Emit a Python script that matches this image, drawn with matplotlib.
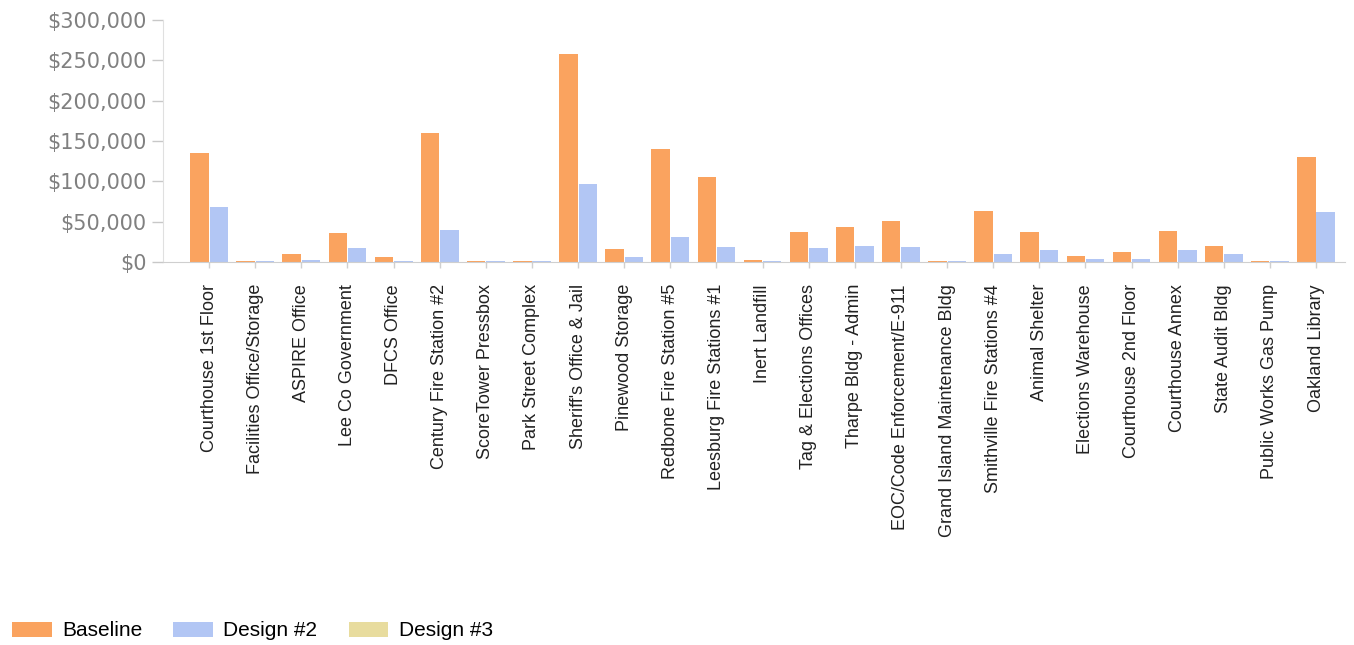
import matplotlib
matplotlib.use("Agg")
import matplotlib.pyplot as plt
from matplotlib.patches import Patch
from matplotlib.ticker import FuncFormatter, MultipleLocator
import numpy as np

# Annual energy cost by facility
facilities = [
    "Courthouse 1st Floor", "Facilities Office/Storage", "ASPIRE Office",
    "Lee Co Government", "DFCS Office", "Century Fire Station #2",
    "ScoreTower Pressbox", "Park Street Complex", "Sheriff's Office & Jail",
    "Pinewood Storage", "Redbone Fire Station #5", "Leesburg Fire Stations #1",
    "Inert Landfill", "Tag & Elections Offices", "Tharpe Bldg - Admin",
    "EOC/Code Enforcement/E-911", "Grand Island Maintenance Bldg",
    "Smithville Fire Stations #4", "Animal Shelter", "Elections Warehouse",
    "Courthouse 2nd Floor", "Courthouse Annex", "State Audit Bldg",
    "Public Works Gas Pump", "Oakland Library",
]
baseline = [
    134500, 1500, 10000, 36000, 6000, 160000,
    1000, 1000, 257500, 16500, 140500, 105000,
    2000, 37500, 43000, 51000, 1000,
    63500, 37000, 7500, 12000, 38000, 20000,
    1000, 129500,
]
design2 = [
    67500, 1000, 2000, 17000, 1500, 39000,
    500, 500, 96000, 6000, 30500, 18000,
    500, 17000, 20000, 18000, 500,
    10000, 14500, 3500, 3000, 15000, 10000,
    500, 62000,
]
series_labels = ["Baseline", "Design #2", "Design #3"]
series_colors = ["#FAA35F", "#B2C6F4", "#E8DC9E"]

fig = plt.figure(figsize=(13.54, 6.45), dpi=100)
ax = fig.add_axes([0.1204, 0.594, 0.8730, 0.375])

x = np.arange(len(facilities))
w = 0.40
ax.bar(x - 0.21, baseline, width=w, color=series_colors[0], linewidth=0)
ax.bar(x + 0.21, design2, width=w, color=series_colors[1], linewidth=0)

ax.set_xlim(-1.0, len(facilities) - 0.37)
ax.set_ylim(0, 300000)
ax.yaxis.set_major_locator(MultipleLocator(50000))
ax.yaxis.set_major_formatter(FuncFormatter(lambda v, p: f"${v:,.0f}"))

ax.set_xticks(x)
ax.set_xticklabels(facilities, rotation=90, va="top", ha="center",
                   fontsize=13, family="Liberation Sans", color="#222222")

for lab in ax.get_yticklabels():
    lab.set_family("DejaVu Sans")
    lab.set_fontsize(15)
    lab.set_color("#808080")

ax.tick_params(axis="y", length=8, width=1, color="#c8c8c8", pad=4)
ax.tick_params(axis="x", length=4, width=1, color="#d0d0d0", pad=12)

for side in ("top", "right"):
    ax.spines[side].set_visible(False)
ax.spines["left"].set_color("#e0e0e0")
ax.spines["bottom"].set_color("#cfcfcf")

handles = [Patch(facecolor=c, edgecolor="none") for c in series_colors]
fig.legend(handles, series_labels, loc="lower left",
           bbox_to_anchor=(-0.005, -0.022), ncol=3, frameon=False,
           handlelength=1.9, handleheight=0.75,
           handletextpad=0.5, columnspacing=1.5,
           prop={"family": "Liberation Sans", "size": 15})

fig.savefig("out.png", dpi=100, facecolor="white")
